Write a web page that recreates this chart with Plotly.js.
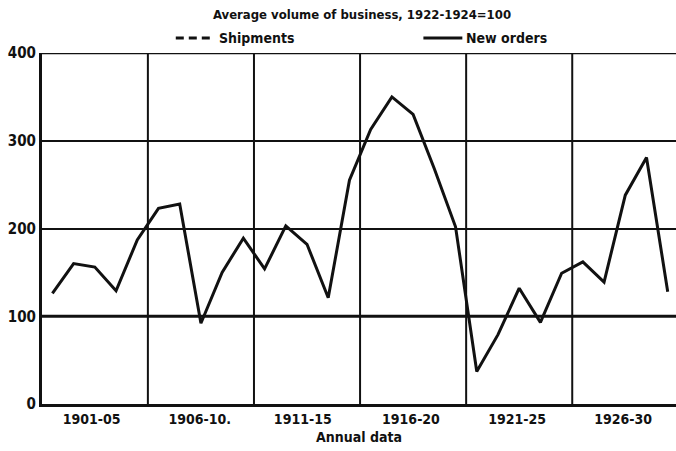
<!DOCTYPE html>
<html>
<head>
<meta charset="utf-8">
<script src="https://cdn.plot.ly/plotly-3.0.1.min.js"></script>
<style>html,body{margin:0;padding:0;background:#fff;}#chart{width:676px;height:451px;}</style>
</head>
<body>
<div id="chart"></div>
<script>
// Data (annual, 1901-1930)
const years = [1901,1902,1903,1904,1905,1906,1907,1908,1909,1910,
               1911,1912,1913,1914,1915,1916,1917,1918,1919,1920,
               1921,1922,1923,1924,1925,1926,1927,1928,1929,1930];
const newOrders = [126,160,156,129,187,223,228,92,150,189,
                   154,203,182,121,255,313,350,330,268,202,
                   37,79,132,93,149,162,139,238,281,128];
const periodLabels = ["1901-05","1906-10.","1911-15","1916-20","1921-25","1926-30"];
const periodCenters = [1902.85,1907.95,1912.8,1917.9,1922.9,1927.9];
const periodBounds = [1905.5,1910.5,1915.5,1920.5,1925.5];
const yTicks = [0,100,200,300,400];

const FONT = '"DejaVu Sans Condensed","Liberation Sans Narrow","DejaVu Sans",sans-serif';
const INK = '#111111';

const shapes = [];
periodBounds.forEach(b => shapes.push({type:'line', xref:'x', yref:'y', x0:b, x1:b, y0:0, y1:400,
  line:{color:INK, width:2}, layer:'below'}));
shapes.push({type:'line', xref:'paper', yref:'y', x0:0, x1:1, y0:100, y1:100, line:{color:INK, width:3}, layer:'below'});
shapes.push({type:'line', xref:'paper', yref:'y', x0:0, x1:1, y0:400, y1:400, line:{color:INK, width:2.5}, layer:'below'});
// legend samples (paper coords)
const px = v => (v - 41) / 635;
const py = v => (404 - v) / 351;
shapes.push({type:'line', xref:'paper', yref:'paper', x0:px(175), x1:px(212), y0:py(38), y1:py(38),
  line:{color:INK, width:3, dash:'8px,5px'}});
shapes.push({type:'line', xref:'paper', yref:'paper', x0:px(423), x1:px(462), y0:py(38), y1:py(38),
  line:{color:INK, width:3}});

const annotations = [
  {xref:'paper', yref:'paper', x:px(216), y:py(38), xanchor:'left', yanchor:'middle', showarrow:false,
   text:'Shipments', font:{family:FONT, size:14, color:INK, weight:'bold'}},
  {xref:'paper', yref:'paper', x:px(464), y:py(38), xanchor:'left', yanchor:'middle', showarrow:false,
   text:'New orders', font:{family:FONT, size:14, color:INK, weight:'bold'}}
];

const data = [{
  type:'scatter', mode:'lines', x:years, y:newOrders, name:'New orders',
  line:{color:INK, width:3}, hoverinfo:'skip'
}];

const layout = {
  width:676, height:451,
  margin:{l:42, r:0, t:53, b:47},
  paper_bgcolor:'#fff', plot_bgcolor:'#fff',
  showlegend:false,
  title:{text:'Average volume of business, 1922-1924=100', x:362/676, xanchor:'center',
         y:1-14/451, yanchor:'middle', font:{family:FONT, size:13, color:INK, weight:'bold'}},
  xaxis:{range:[1900.51,1930.39], tickvals:periodCenters, ticktext:periodLabels, ticks:'',
         showgrid:false, zeroline:false, showline:true, linewidth:3, linecolor:INK,
         tickfont:{family:FONT, size:14, color:INK, weight:'bold'},
         title:{text:'Annual data', font:{family:FONT, size:14, color:INK, weight:'bold'}, standoff:7}},
  yaxis:{range:[0,400], tickvals:yTicks, ticks:'', showgrid:true, gridcolor:INK, gridwidth:2,
         zeroline:false, showline:true, linewidth:3, linecolor:INK,
         tickfont:{family:FONT, size:15, color:INK, weight:'bold'}},
  shapes:shapes, annotations:annotations
};

Plotly.newPlot('chart', data, layout, {displayModeBar:false, staticPlot:true});
</script>
</body>
</html>
